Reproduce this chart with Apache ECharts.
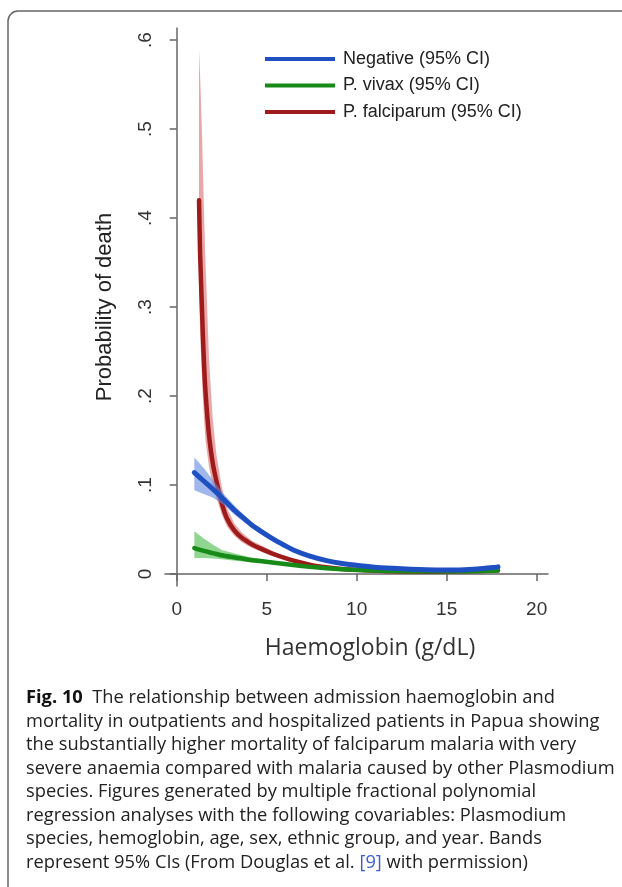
<!DOCTYPE html>
<html>
<head>
<meta charset="utf-8">
<script src="https://cdn.jsdelivr.net/npm/echarts@6/dist/echarts.min.js"></script>
<style>
html,body{margin:0;padding:0;background:#fff;}
#c{width:622px;height:887px;}
</style>
</head>
<body>
<div id="c"></div>
<script>
// ---- data ----
const legendNames = ['Negative (95% CI)', 'P. vivax (95% CI)', 'P. falciparum (95% CI)'];
const xTicks = [0, 5, 10, 15, 20];
const yTicks = [0, 0.1, 0.2, 0.3, 0.4, 0.5, 0.6];

const negX  = [0.98,1.5,2.0,2.3,2.7,3.24,3.7,4.17,4.6,5.3,6.0,6.48,7.4,8.33,9.2,10.2,11,12,13,13.9,15,15.7,16.7,17.6,17.85];
const negY  = [0.114,0.1045,0.0955,0.090,0.082,0.071,0.063,0.055,0.049,0.040,0.032,0.027,0.020,0.015,0.0118,0.0093,0.0077,0.0064,0.0053,0.0047,0.0045,0.0046,0.0055,0.0073,0.008];
const negLo = [0.094,0.090,0.086,0.082,0.076,0.066,0.059,0.052,0.046,0.037,0.030,0.025,0.0185,0.0137,0.0106,0.0083,0.0067,0.0054,0.0043,0.0037,0.0035,0.0036,0.0043,0.0058,0.0062];
const negHi = [0.131,0.119,0.106,0.098,0.088,0.076,0.067,0.058,0.052,0.0425,0.034,0.029,0.0215,0.0163,0.013,0.0103,0.0087,0.0074,0.0063,0.0057,0.0055,0.0056,0.0067,0.0088,0.0098];

const vivX  = [0.98,1.5,2.0,2.5,3.24,4.0,4.63,5.3,6.48,7.4,8.33,9.2,10.2,12,14,16,17.85];
const vivY  = [0.029,0.026,0.0235,0.021,0.0185,0.016,0.0145,0.013,0.010,0.008,0.0064,0.0053,0.0045,0.0033,0.003,0.003,0.0038];
const vivLo = [0.018,0.018,0.0175,0.0165,0.015,0.0135,0.0125,0.0113,0.0088,0.0071,0.0057,0.0047,0.0039,0.0028,0.0025,0.0024,0.003];
const vivHi = [0.048,0.040,0.033,0.027,0.023,0.019,0.017,0.015,0.0113,0.009,0.0072,0.006,0.0052,0.0039,0.0036,0.0037,0.0048];

const falX  = [1.24,1.3,1.4,1.5,1.6,1.8,2.0,2.2,2.5,2.8,3.2,3.6,4.2,4.6,5.3,6.0,6.5,7.5,8.3,9.0,10.2,12,14,16,17.85];
const falY  = [0.420,0.36,0.30,0.245,0.205,0.155,0.125,0.105,0.080,0.062,0.049,0.041,0.033,0.029,0.023,0.018,0.015,0.010,0.0075,0.006,0.0045,0.003,0.0026,0.003,0.004];
const falLo = [0.32,0.27,0.22,0.18,0.15,0.12,0.10,0.086,0.067,0.053,0.043,0.036,0.029,0.026,0.020,0.016,0.013,0.0088,0.0065,0.005,0.0037,0.0023,0.002,0.0022,0.003];
const falHi = [0.59,0.56,0.50,0.42,0.35,0.24,0.175,0.135,0.098,0.074,0.057,0.047,0.037,0.033,0.026,0.020,0.017,0.0115,0.0087,0.007,0.0054,0.0038,0.0033,0.0038,0.0052];

const captionLines = [
  [{t:'Fig. 10', s:'b'}, {t:'  The relationship between admission haemoglobin and', s:'n'}],
  [{t:'mortality in outpatients and hospitalized patients in Papua showing', s:'n'}],
  [{t:'the substantially higher mortality of falciparum malaria with very', s:'n'}],
  [{t:'severe anaemia compared with malaria caused by other Plasmodium', s:'n'}],
  [{t:'species. Figures generated by multiple fractional polynomial', s:'n'}],
  [{t:'regression analyses with the following covariables: Plasmodium', s:'n'}],
  [{t:'species, hemoglobin, age, sex, ethnic group, and year. Bands', s:'n'}],
  [{t:'represent 95% CIs (From Douglas et al. ', s:'n'}, {t:'[9]', s:'l'}, {t:' with permission)', s:'n'}]
];

// ---- build ----
function pairs(xs, ys){ return xs.map((x,i)=>[x, ys[i]]); }
function triples(xs, lo, hi){ return xs.map((x,i)=>[x, lo[i], hi[i]]); }

function bandSeries(name, xs, lo, hi, color, z){
  const d = triples(xs, lo, hi);
  return {
    type: 'custom', name: name, z: z, silent: true,
    data: d,
    encode: {x: 0, y: [1, 2]},
    renderItem: function(params, api){
      if (params.dataIndex !== 0) return null;
      const top = d.map(p => api.coord([p[0], p[2]]));
      const bot = d.map(p => api.coord([p[0], p[1]])).reverse();
      return {type: 'polygon', shape: {points: top.concat(bot)}, style: {fill: color, stroke: null}};
    }
  };
}
function lineSeries(name, xs, ys, color, w, z){
  return {
    type: 'line', name: name, z: z, data: pairs(xs, ys),
    showSymbol: false, symbol: 'none', smooth: 0.25,
    lineStyle: {color: color, width: w, cap: 'round', join: 'round'},
    itemStyle: {color: color}
  };
}

const blue = '#1f50c2', green = '#178a17', red = '#9e1b1b';

const capFont = '18.3px "Open Sans"';
const graphics = [
  {type: 'rect', shape: {x: 8, y: 11, width: 700, height: 900, r: 10}, style: {fill: 'none', stroke: '#666', lineWidth: 1.5}, z: 100},
  {type: 'text', x: 370, y: 648, style: {text: 'Haemoglobin (g/dL)', font: '23px "Open Sans"', fill: '#333', textAlign: 'center', textVerticalAlign: 'middle'}}
];
const capTop = 698, capLH = 23.5;
captionLines.forEach((line, i) => {
  const str = line.map(seg => '{' + seg.s + '|' + seg.t + '}').join('');
  graphics.push({
    type: 'text', x: 26, y: capTop + i * capLH,
    style: {
      text: str, textVerticalAlign: 'middle',
      rich: {
        b: {font: 'bold ' + capFont, fill: '#111'},
        n: {font: capFont, fill: '#222'},
        l: {font: capFont, fill: '#3a5fcd'}
      }
    }
  });
});

const chart = echarts.init(document.getElementById('c'), null, {renderer: 'canvas'});
chart.setOption({
  animation: false,
  backgroundColor: '#fff',
  textStyle: {fontFamily: '"Liberation Sans", Arial, sans-serif'},
  grid: {left: 165, right: 74, top: 28, bottom: 301, containLabel: false},
  legend: {
    data: legendNames, orient: 'vertical', left: 260, top: 45,
    icon: 'rect', itemWidth: 70, itemHeight: 4, itemGap: 8.5,
    textStyle: {fontSize: 18, color: '#222', fontFamily: '"Liberation Sans", Arial, sans-serif', padding: [0, 0, 0, 3]}
  },
  xAxis: {
    type: 'value', min: -0.65, max: 20.63,
    axisLine: {show: true, lineStyle: {color: '#666', width: 1.5}},
    axisTick: {show: true, length: 7, lineStyle: {color: '#666', width: 1.5}, customValues: xTicks},
    axisLabel: {customValues: xTicks, fontSize: 19, color: '#333', margin: 14},
    splitLine: {show: false}
  },
  yAxis: {
    type: 'value', min: -0.0135, max: 0.6135,
    name: 'Probability of death', nameLocation: 'middle', nameGap: 49,
    nameTextStyle: {fontSize: 22, color: '#222'},
    axisLine: {show: true, lineStyle: {color: '#666', width: 1.5}},
    axisTick: {show: true, length: 7, lineStyle: {color: '#666', width: 1.5}, customValues: yTicks},
    axisLabel: {
      customValues: yTicks, fontSize: 19, color: '#333', rotate: 90, margin: 10,
      formatter: v => (Math.abs(v) < 1e-9 ? '0' : '.' + Math.round(v * 10))
    },
    splitLine: {show: false}
  },
  series: [
    bandSeries('falBand', falX, falLo, falHi, 'rgba(215,95,95,0.55)', 1),
    lineSeries(legendNames[2], falX, falY, red, 4.5, 2),
    bandSeries('vivBand', vivX, vivLo, vivHi, 'rgba(70,185,70,0.6)', 3),
    lineSeries(legendNames[1], vivX, vivY, green, 4.5, 4),
    bandSeries('negBand', negX, negLo, negHi, 'rgba(95,135,225,0.6)', 5),
    lineSeries(legendNames[0], negX, negY, blue, 5, 6)
  ],
  graphic: graphics
});
</script>
</body>
</html>
